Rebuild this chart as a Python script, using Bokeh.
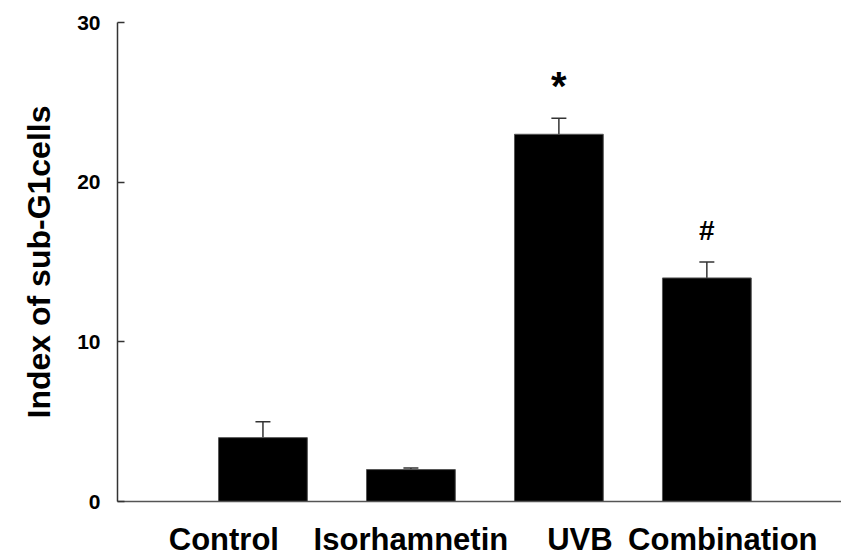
from bokeh.plotting import figure
from bokeh.models import (ColumnDataSource, FixedTicker, Whisker, TeeHead, Label, Range1d)
from bokeh.embed import file_html
from bokeh.resources import INLINE

categories = ["Control", "Isorhamnetin", "UVB", "Combination"]
values = [4.0, 2.0, 23.0, 14.0]
errors = [1.0, 0.1, 1.0, 1.0]
marks = ["", "", "*", "#"]
y_ticks = [0, 10, 20, 30]

# layout-only settings
LABEL_NUDGE_PX = [-39, 0, 21, 16]
MARK_SIZE = {"*": "40px", "#": "28px"}
X_START, X_END = 0.017, 4.91
WIDTH, HEIGHT = 841, 559
LEFT, TOP, BOTTOM = 117, 22, 58

xs = list(range(1, len(categories) + 1))
upper = [v + e for v, e in zip(values, errors)]

src = ColumnDataSource(dict(x=xs, top=values, upper=upper))

FONT = "Liberation Sans"

p = figure(width=WIDTH, height=HEIGHT, output_backend="svg", toolbar_location=None,
           x_range=Range1d(X_START, X_END), y_range=Range1d(0, 30))
p.min_border_left = LEFT
p.min_border_right = 0
p.min_border_top = TOP
p.min_border_bottom = BOTTOM
p.outline_line_color = None
p.xgrid.visible = False
p.ygrid.visible = False
p.background_fill_color = "white"
p.border_fill_color = "white"

p.vbar(x="x", top="top", width=0.6, bottom=0, source=src,
       fill_color="black", line_color="#555555", line_width=1)

w = Whisker(source=src, base="x", lower="top", upper="upper",
            line_color="#333333", line_width=1.5,
            upper_head=TeeHead(size=15, line_color="#333333", line_width=1.5),
            lower_head=None)
p.add_layout(w)

for xi, ui, mk in zip(xs, upper, marks):
    if mk:
        p.add_layout(Label(x=xi, y=ui, text=mk, y_offset=32, x_offset=0,
                           text_align="center", text_baseline="middle",
                           text_font=FONT, text_font_size=MARK_SIZE[mk],
                           text_font_style="bold", text_color="black"))

# y axis
p.yaxis.ticker = FixedTicker(ticks=y_ticks)
p.yaxis.minor_tick_line_color = None
p.yaxis.major_tick_in = 7
p.yaxis.major_tick_out = 0
p.yaxis.axis_line_color = "#333333"
p.yaxis.axis_line_width = 1.5
p.yaxis.major_tick_line_color = "#333333"
p.yaxis.major_tick_line_width = 1.5
p.yaxis.major_label_text_font = FONT
p.yaxis.major_label_text_font_style = "bold"
p.yaxis.major_label_text_font_size = "21px"
p.yaxis.major_label_text_color = "black"
p.yaxis.major_label_standoff = 17
p.yaxis.axis_label = "Index of sub-G1cells"
p.yaxis.axis_label_text_font = FONT
p.yaxis.axis_label_text_font_style = "bold"
p.yaxis.axis_label_text_font_size = "32px"
p.yaxis.axis_label_text_color = "black"
p.yaxis.axis_label_standoff = 17

# x axis: category labels as tick labels (nudged by a few pixels)
px_per_unit = (WIDTH - LEFT) / (X_END - X_START)
label_pos = [round(xi + nd / px_per_unit, 3) for xi, nd in zip(xs, LABEL_NUDGE_PX)]
p.xaxis.ticker = FixedTicker(ticks=label_pos)
p.xaxis.major_label_overrides = {pos: cat for pos, cat in zip(label_pos, categories)}
p.xaxis.major_tick_line_color = None
p.xaxis.minor_tick_line_color = None
p.xaxis.major_label_text_font = FONT
p.xaxis.major_label_text_font_style = "bold"
p.xaxis.major_label_text_font_size = "31px"
p.xaxis.major_label_text_color = "black"
p.xaxis.major_label_standoff = 14
p.xaxis.axis_line_color = "#555555"
p.xaxis.axis_line_width = 1.5

open("out.html", "w").write(file_html(p, INLINE))
